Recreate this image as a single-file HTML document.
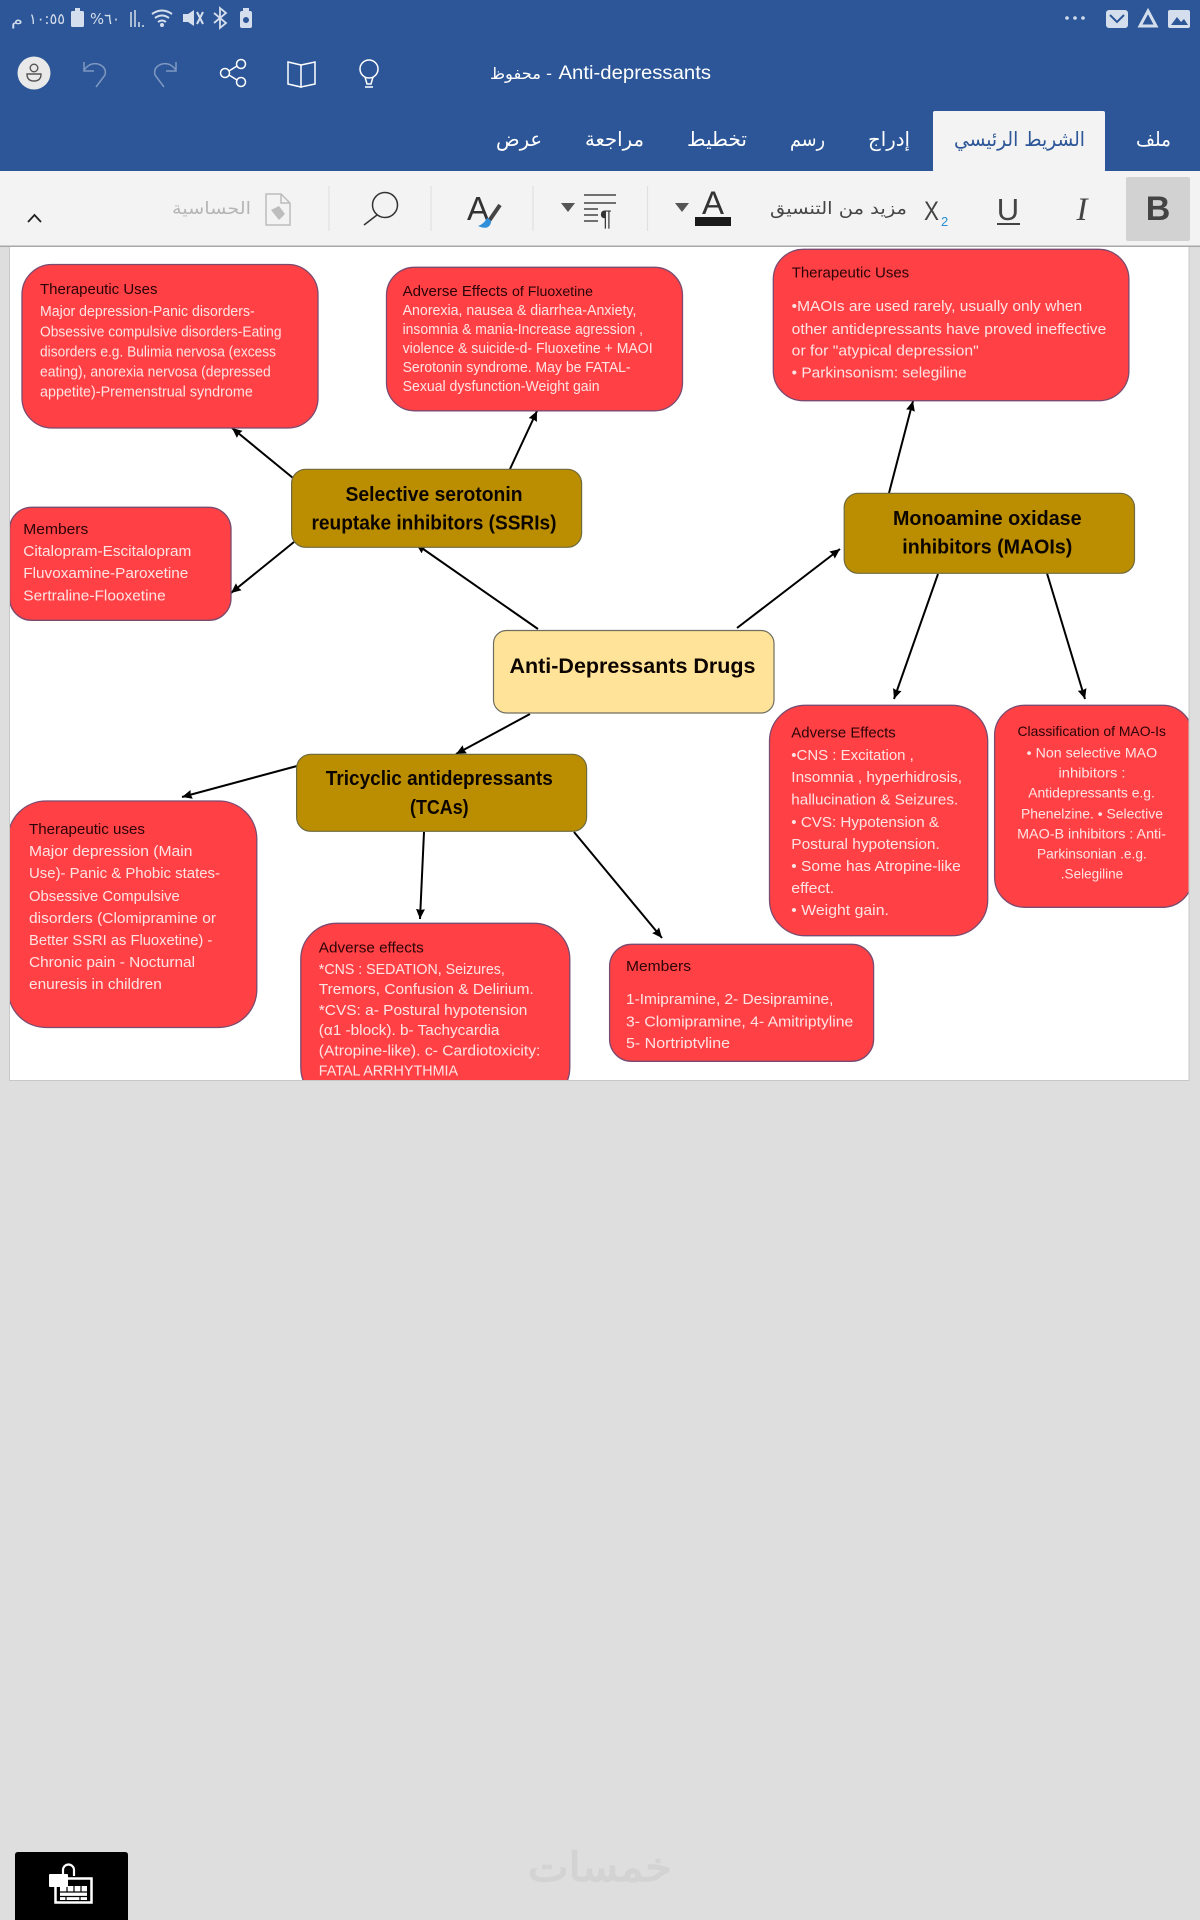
<!DOCTYPE html>
<html lang="en">
<head>
<meta charset="utf-8">
<title>Anti-depressants</title>
<style>
html,body{margin:0;padding:0;background:#DEDEDE;width:1200px;height:1920px;overflow:hidden}
svg{display:block;font-family:"Liberation Sans","DejaVu Sans",sans-serif}
.b{fill:#FFE3E3;font-size:15px}
.h{fill:#2A0406;font-size:15px}
.s{font-size:14px}
.t{fill:#0C0500;font-size:20.500px;font-weight:bold;text-anchor:middle}
.red{fill:#FF4146;stroke:#7B4A6E;stroke-width:1.3}
.gold{fill:#BA8E00;stroke:#6F6B3E;stroke-width:1.2}
.c{stroke:#000;stroke-width:2;fill:none;marker-end:url(#ah)}
.ar{font-family:"DejaVu Sans",sans-serif}
.tab{fill:#fff;font-size:20px}
.ic{fill:none;stroke:#fff;stroke-width:1.5}
.rb{fill:none;stroke:#333;stroke-width:1.5}
.sep{stroke:#E0E0E0;stroke-width:1.2}
.st{fill:#D5DEEC}
</style>
</head>
<body>
<svg width="1200" height="1920" viewBox="0 0 1200 1920" xmlns="http://www.w3.org/2000/svg">
<defs>
<marker id="ah" markerUnits="userSpaceOnUse" markerWidth="12" markerHeight="12" refX="10" refY="5" orient="auto"><path d="M0 0.500L10 5L0 9.500L1 5Z" fill="#000"/></marker>
<clipPath id="page"><rect x="10" y="247" width="1178.6" height="833"/></clipPath>
<clipPath id="cut"><rect x="600" y="1030" width="280" height="18.5"/></clipPath>
</defs>

<rect width="1200" height="1920" fill="#DEDEDE"/>

<!-- page -->
<rect x="9.5" y="240" width="1179.5" height="840.5" fill="#fff" stroke="#C8C8C8"/>

<!-- header -->
<rect width="1200" height="171" fill="#2C5697"/>

<!-- status bar left -->
<text class="ar st" x="11" y="25" font-size="15" textLength="12" lengthAdjust="spacingAndGlyphs">م</text>
<text class="ar st" x="29" y="24" font-size="15" textLength="36" lengthAdjust="spacingAndGlyphs">١٠:٥٥</text>
<rect x="71" y="11" width="13" height="16" rx="1.5" class="st"/><rect x="75" y="8" width="5" height="3" class="st"/>
<text class="ar st" x="90" y="24" font-size="15" textLength="30" lengthAdjust="spacingAndGlyphs">%٦٠</text>
<path d="M131 12v15M135 10v17M139 22v5M143 25v2" stroke="#D5DEEC" stroke-width="1.5"/>
<path d="M152 14q10-7 20 0M155 18q7-5 14 0M158 22q4-3 8 0" fill="none" stroke="#D5DEEC" stroke-width="2"/><circle cx="162" cy="25" r="2" class="st"/>
<path d="M183 14h5l6-4v16l-6-4h-5z" class="st"/><path d="M197 12l6 12M203 12l-6 12" stroke="#D5DEEC" stroke-width="2"/>
<path d="M214 13l12 10-6 5V8l6 5-12 10" fill="none" stroke="#D5DEEC" stroke-width="1.8"/>
<rect x="240" y="11" width="12" height="17" rx="2" class="st"/><rect x="243" y="8" width="6" height="3" class="st"/><circle cx="246" cy="20" r="3" fill="#2C5697"/>

<!-- status bar right -->
<circle cx="1067" cy="18" r="1.8" class="st"/><circle cx="1075" cy="18" r="1.8" class="st"/><circle cx="1083" cy="18" r="1.8" class="st"/>
<rect x="1106" y="10" width="22" height="18" rx="3" class="st"/><path d="M1110 15l7 7 7-7" stroke="#2C5697" stroke-width="2" fill="none"/>
<path d="M1148 11l8 15h-16z" fill="none" stroke="#D5DEEC" stroke-width="3"/>
<rect x="1168" y="10" width="22" height="18" rx="2" class="st"/><path d="M1171 25l6-8 4 5 3-3 4 6z" fill="#2C5697"/>

<!-- title row -->
<circle cx="34" cy="73" r="16.5" fill="#E9E9E9"/>
<circle cx="34" cy="68" r="3.8" fill="none" stroke="#555" stroke-width="1.4"/><path d="M27 74h14q0 7-7 7t-7-7z" fill="none" stroke="#555" stroke-width="1.4"/>
<path d="M84 62v9h10M84 70q6-8 14-6 9 3 7 11l-9 12" fill="none" stroke="#7E98C2" stroke-width="1.5"/>
<path d="M176 62v9h-10M176 70q-6-8-14-6-9 3-7 11l9 12" fill="none" stroke="#7E98C2" stroke-width="1.5"/>
<circle cx="225" cy="73" r="4.5" class="ic"/><circle cx="241" cy="64" r="4.5" class="ic"/><circle cx="241" cy="82" r="4.5" class="ic"/><path d="M229 71l8-5M229 75l8 5" class="ic"/>
<path d="M288 62l13 3v22l-13-3zM301 65l14-3v22l-14 3z" class="ic"/>
<circle cx="369" cy="69" r="9" class="ic"/><path d="M365 77l2 7h4l2-7M365 87h8" class="ic"/>
<text class="ar" x="490" y="79" fill="#fff" font-size="16" textLength="62" lengthAdjust="spacingAndGlyphs">محفوظ -</text>
<text x="558.5" y="79" fill="#fff" font-size="19.500" textLength="152.5" lengthAdjust="spacingAndGlyphs">Anti-depressants</text>

<!-- tabs -->
<rect x="933" y="111" width="172" height="61" rx="2" fill="#F3F3F3"/>
<text class="ar tab" x="1136" y="146" textLength="35" lengthAdjust="spacingAndGlyphs">ملف</text>
<text class="ar tab" x="954" y="146" textLength="131" lengthAdjust="spacingAndGlyphs" style="fill:#2C5697">الشريط الرئيسي</text>
<text class="ar tab" x="868" y="146" textLength="42" lengthAdjust="spacingAndGlyphs">إدراج</text>
<text class="ar tab" x="790" y="146" textLength="35" lengthAdjust="spacingAndGlyphs">رسم</text>
<text class="ar tab" x="687" y="146" textLength="60" lengthAdjust="spacingAndGlyphs">تخطيط</text>
<text class="ar tab" x="585" y="146" textLength="59" lengthAdjust="spacingAndGlyphs">مراجعة</text>
<text class="ar tab" x="496" y="146" textLength="46" lengthAdjust="spacingAndGlyphs">عرض</text>

<!-- ribbon -->
<rect x="0" y="171" width="1200" height="75" fill="#F3F3F3"/>
<rect x="0" y="245.5" width="1200" height="1.5" fill="#A8A8A8"/>
<rect x="1126" y="177" width="64" height="64" rx="2" fill="#D2D2D2"/>
<text x="1158" y="220" font-size="34" font-weight="bold" fill="#444" text-anchor="middle">B</text>
<text x="1082" y="220" font-size="33" font-family="Liberation Serif,serif" font-style="italic" fill="#444" text-anchor="middle">I</text>
<text x="1008" y="220" font-size="31" fill="#444" text-anchor="middle">U</text><rect x="997" y="223" width="23" height="2" fill="#444"/>
<text x="924" y="220" font-size="27" fill="#444" textLength="15" lengthAdjust="spacingAndGlyphs">X</text><text x="941" y="226" font-size="13" fill="#2A8FD0">2</text>
<text class="ar" x="770" y="214" font-size="17" fill="#444" textLength="137" lengthAdjust="spacingAndGlyphs">مزيد من التنسيق</text>
<text x="713" y="214" font-size="32" fill="#333" text-anchor="middle" textLength="22" lengthAdjust="spacingAndGlyphs">A</text><rect x="695" y="217" width="36" height="9" fill="#1A1A1A"/>
<path d="M675 203h14l-7 9z" fill="#555"/>
<line class="sep" x1="647.5" y1="186" x2="647.5" y2="231"/>
<path d="M584 195h32M584 203h32M584 209h14M584 215h14M584 221h14" stroke="#444" stroke-width="1.5"/>
<text x="600" y="226" font-size="22" fill="#333">¶</text>
<path d="M561 203h14l-7 9z" fill="#555"/>
<line class="sep" x1="533" y1="186" x2="533" y2="231"/>
<text x="467" y="220" font-size="33" fill="#333" textLength="22" lengthAdjust="spacingAndGlyphs">A</text>
<path d="M500 205l-11 16" stroke="#444" stroke-width="4"/><path d="M487 218q6 2 3 7t-12 1q6-2 9-8z" fill="#2F8FD8"/>
<line class="sep" x1="431" y1="186" x2="431" y2="231"/>
<circle cx="385" cy="205" r="12.5" class="rb"/><path d="M377 215l-13 10" class="rb"/>
<line class="sep" x1="329" y1="186" x2="329" y2="231"/>
<path d="M266 194h15l9 9v22h-24z M281 194v9h9" fill="none" stroke="#BDBDBD" stroke-width="1.5"/><path d="M271 210l8 10 6-6-6-8z" fill="#BDBDBD"/>
<text class="ar" x="172" y="214" font-size="17" fill="#B5B5B5" textLength="79" lengthAdjust="spacingAndGlyphs">الحساسية</text>
<path d="M28 222l6.500-7 6.500 7" fill="none" stroke="#222" stroke-width="1.8"/>

<!-- diagram -->
<g clip-path="url(#page)">
<line class="c" x1="293" y1="478" x2="232" y2="428"/>
<line class="c" x1="510" y1="469" x2="537" y2="411"/>
<line class="c" x1="294" y1="542" x2="231" y2="593"/>
<line class="c" x1="538" y1="629" x2="416" y2="544"/>
<line class="c" x1="737" y1="628" x2="840" y2="549"/>
<line class="c" x1="889" y1="493" x2="913" y2="401"/>
<line class="c" x1="938" y1="574" x2="894" y2="699"/>
<line class="c" x1="1046" y1="570" x2="1085" y2="699"/>
<line class="c" x1="530" y1="714" x2="456" y2="754"/>
<line class="c" x1="297" y1="766" x2="182" y2="797"/>
<line class="c" x1="424" y1="832" x2="420" y2="919"/>
<line class="c" x1="574" y1="832" x2="662" y2="938"/>

<!-- A -->
<rect class="red" x="22" y="264.500" width="296" height="163.500" rx="30"/>
<text class="h" x="40" y="294" textLength="117.500" lengthAdjust="spacingAndGlyphs">Therapeutic Uses</text>
<text class="b" x="40" y="316" textLength="214.700" lengthAdjust="spacingAndGlyphs">Major depression-Panic disorders-</text>
<text class="b" x="40" y="336.700" textLength="241.500" lengthAdjust="spacingAndGlyphs">Obsessive compulsive disorders-Eating</text>
<text class="b" x="40" y="356.700" textLength="236" lengthAdjust="spacingAndGlyphs">disorders e.g. Bulimia nervosa (excess</text>
<text class="b" x="40" y="376.700" textLength="230.800" lengthAdjust="spacingAndGlyphs">eating), anorexia nervosa (depressed</text>
<text class="b" x="40" y="396.700" textLength="212.800" lengthAdjust="spacingAndGlyphs">appetite)-Premenstrual syndrome</text>

<!-- B -->
<rect class="red" x="386.500" y="267.300" width="296" height="143.500" rx="28"/>
<text class="h" x="402.600" y="296" textLength="105" lengthAdjust="spacingAndGlyphs">Adverse Effects</text>
<text class="h s" x="512" y="296" textLength="81" lengthAdjust="spacingAndGlyphs">of Fluoxetine</text>
<text class="b" x="402.600" y="315" textLength="233.800" lengthAdjust="spacingAndGlyphs">Anorexia, nausea &amp; diarrhea-Anxiety,</text>
<text class="b" x="402.600" y="334" textLength="240.400" lengthAdjust="spacingAndGlyphs">insomnia &amp; mania-Increase agression ,</text>
<text class="b" x="402.600" y="353" textLength="250" lengthAdjust="spacingAndGlyphs">violence &amp; suicide-d- Fluoxetine + MAOI</text>
<text class="b" x="402.600" y="372" textLength="228" lengthAdjust="spacingAndGlyphs">Serotonin syndrome. May be FATAL-</text>
<text class="b" x="402.600" y="391" textLength="197" lengthAdjust="spacingAndGlyphs">Sexual dysfunction-Weight gain</text>

<!-- C -->
<rect class="red" x="9.600" y="507.300" width="221.400" height="113" rx="22"/>
<text class="h" x="23.300" y="534" textLength="65" lengthAdjust="spacingAndGlyphs">Members</text>
<text class="b" x="23.300" y="556" textLength="168" lengthAdjust="spacingAndGlyphs">Citalopram-Escitalopram</text>
<text class="b" x="23.300" y="578" textLength="165" lengthAdjust="spacingAndGlyphs">Fluvoxamine-Paroxetine</text>
<text class="b" x="23.300" y="600.700" textLength="142.400" lengthAdjust="spacingAndGlyphs">Sertraline-Flooxetine</text>

<!-- SSRI -->
<rect class="gold" x="291.600" y="469.300" width="290" height="78" rx="14"/>
<text class="t" x="434" y="501" textLength="177" lengthAdjust="spacingAndGlyphs">Selective serotonin</text>
<text class="t" x="434" y="529.500" textLength="245" lengthAdjust="spacingAndGlyphs">reuptake inhibitors (SSRIs)</text>

<!-- D -->
<rect class="red" x="773.300" y="249.300" width="355.600" height="151.400" rx="30"/>
<text class="h" x="791.700" y="277.700" textLength="117.500" lengthAdjust="spacingAndGlyphs">Therapeutic Uses</text>
<text class="b" x="791.700" y="311" textLength="290.500" lengthAdjust="spacingAndGlyphs">•MAOIs are used rarely, usually only when</text>
<text class="b" x="791.700" y="334" textLength="314.600" lengthAdjust="spacingAndGlyphs">other antidepressants have proved ineffective</text>
<text class="b" x="791.700" y="355.700" textLength="187" lengthAdjust="spacingAndGlyphs">or for "atypical depression"</text>
<text class="b" x="791.700" y="377.700" textLength="175" lengthAdjust="spacingAndGlyphs">• Parkinsonism: selegiline</text>

<!-- MAOI -->
<rect class="gold" x="844.200" y="493.300" width="290.300" height="80" rx="14"/>
<text class="t" x="987.300" y="525" textLength="188.700" lengthAdjust="spacingAndGlyphs">Monoamine oxidase</text>
<text class="t" x="987.300" y="553.300" textLength="170" lengthAdjust="spacingAndGlyphs">inhibitors (MAOIs)</text>

<!-- Central -->
<rect x="493.500" y="630.500" width="280.500" height="82.500" rx="13" fill="#FFE398" stroke="#6F6F60" stroke-width="1.200"/>
<text class="t" x="632.500" y="673" style="font-size:21.500px" textLength="246" lengthAdjust="spacingAndGlyphs">Anti-Depressants Drugs</text>

<!-- TCA -->
<rect class="gold" x="296.600" y="754.300" width="290" height="77" rx="14"/>
<text class="t" x="439.300" y="785" textLength="227" lengthAdjust="spacingAndGlyphs">Tricyclic antidepressants</text>
<text class="t" x="439.300" y="814" textLength="58.600" lengthAdjust="spacingAndGlyphs">(TCAs)</text>

<!-- TCA therapeutic -->
<rect class="red" x="8" y="801" width="248.800" height="226.500" rx="38"/>
<text class="h" x="29" y="834" textLength="116" lengthAdjust="spacingAndGlyphs">Therapeutic uses</text>
<text class="b" x="29" y="856" textLength="163.400" lengthAdjust="spacingAndGlyphs">Major depression (Main</text>
<text class="b" x="29" y="878" textLength="191" lengthAdjust="spacingAndGlyphs">Use)- Panic &amp; Phobic states-</text>
<text class="b" x="29" y="901" textLength="150.800" lengthAdjust="spacingAndGlyphs">Obsessive Compulsive</text>
<text class="b" x="29" y="923" textLength="187" lengthAdjust="spacingAndGlyphs">disorders (Clomipramine or</text>
<text class="b" x="29" y="945" textLength="183.300" lengthAdjust="spacingAndGlyphs">Better SSRI as Fluoxetine) -</text>
<text class="b" x="29" y="967" textLength="166" lengthAdjust="spacingAndGlyphs">Chronic pain - Nocturnal</text>
<text class="b" x="29" y="989" textLength="132.800" lengthAdjust="spacingAndGlyphs">enuresis in children</text>

<!-- TCA adverse -->
<rect class="red" x="300.800" y="923.300" width="269" height="180" rx="36"/>
<text class="h" x="318.800" y="952.700" textLength="105" lengthAdjust="spacingAndGlyphs">Adverse effects</text>
<text class="b" x="318.800" y="974" textLength="186" lengthAdjust="spacingAndGlyphs">*CNS : SEDATION, Seizures,</text>
<text class="b" x="318.800" y="994" textLength="215" lengthAdjust="spacingAndGlyphs">Tremors, Confusion &amp; Delirium.</text>
<text class="b" x="318.800" y="1015" textLength="208.600" lengthAdjust="spacingAndGlyphs">*CVS:  a- Postural hypotension</text>
<text class="b" x="318.800" y="1035" textLength="180.600" lengthAdjust="spacingAndGlyphs">(α1 -block). b- Tachycardia</text>
<text class="b" x="318.800" y="1055.700" textLength="221.600" lengthAdjust="spacingAndGlyphs">(Atropine-like). c- Cardiotoxicity:</text>
<text class="b" x="318.800" y="1075.700" textLength="139.300" lengthAdjust="spacingAndGlyphs">FATAL ARRHYTHMIA</text>

<!-- MAOI adverse -->
<rect class="red" x="769.500" y="705.300" width="218.200" height="230.400" rx="36"/>
<text class="h" x="791.300" y="737.700" textLength="104.500" lengthAdjust="spacingAndGlyphs">Adverse Effects</text>
<text class="b" x="791.300" y="760" textLength="122.500" lengthAdjust="spacingAndGlyphs">•CNS : Excitation ,</text>
<text class="b" x="791.300" y="782" textLength="170.700" lengthAdjust="spacingAndGlyphs">Insomnia , hyperhidrosis,</text>
<text class="b" x="791.300" y="804.700" textLength="166.900" lengthAdjust="spacingAndGlyphs">hallucination &amp; Seizures.</text>
<text class="b" x="791.300" y="827" textLength="147.700" lengthAdjust="spacingAndGlyphs">• CVS: Hypotension &amp;</text>
<text class="b" x="791.300" y="849" textLength="148.500" lengthAdjust="spacingAndGlyphs">Postural hypotension.</text>
<text class="b" x="791.300" y="871" textLength="169.500" lengthAdjust="spacingAndGlyphs">• Some has Atropine-like</text>
<text class="b" x="791.300" y="893" textLength="42.900" lengthAdjust="spacingAndGlyphs">effect.</text>
<text class="b" x="791.300" y="915" textLength="97.600" lengthAdjust="spacingAndGlyphs">• Weight gain.</text>

<!-- Classification -->
<rect class="red" x="994.600" y="705.300" width="198" height="202" rx="30"/>
<text class="h s" x="1017.500" y="736" textLength="148.500" lengthAdjust="spacingAndGlyphs">Classification of MAO-Is</text>
<text class="b s" x="1026.700" y="757.300" textLength="130.500" lengthAdjust="spacingAndGlyphs">• Non selective MAO</text>
<text class="b s" x="1058.500" y="777.300" textLength="67" lengthAdjust="spacingAndGlyphs">inhibitors :</text>
<text class="b s" x="1028.200" y="797.300" textLength="126.700" lengthAdjust="spacingAndGlyphs">Antidepressants e.g.</text>
<text class="b s" x="1021" y="818.300" textLength="142" lengthAdjust="spacingAndGlyphs">Phenelzine. • Selective</text>
<text class="b s" x="1017.100" y="838.300" textLength="148.900" lengthAdjust="spacingAndGlyphs">MAO-B inhibitors : Anti-</text>
<text class="b s" x="1037" y="858.300" textLength="109.800" lengthAdjust="spacingAndGlyphs">Parkinsonian .e.g.</text>
<text class="b s" x="1060.800" y="878.300" textLength="62.400" lengthAdjust="spacingAndGlyphs">.Selegiline</text>

<!-- Members TCA -->
<rect class="red" x="609.600" y="944.300" width="264" height="117" rx="22"/>
<text class="h" x="626" y="971" textLength="65" lengthAdjust="spacingAndGlyphs">Members</text>
<text class="b" x="626" y="1004" textLength="207.400" lengthAdjust="spacingAndGlyphs">1-Imipramine, 2- Desipramine,</text>
<text class="b" x="626" y="1026.700" textLength="227.300" lengthAdjust="spacingAndGlyphs">3- Clomipramine, 4- Amitriptyline</text>
<g clip-path="url(#cut)"><text class="b" x="626" y="1048" textLength="104" lengthAdjust="spacingAndGlyphs">5- Nortriptyline</text></g>
</g>

<!-- page edge lines -->
<line x1="9.500" y1="247" x2="9.500" y2="1080.500" stroke="#C8C8C8"/>
<line x1="1189" y1="247" x2="1189" y2="1080.500" stroke="#C8C8C8"/>

<!-- bottom -->
<path d="M15 1920v-65q0-3 3-3h107q3 0 3 3v65z" fill="#000"/>
<rect x="55.500" y="1878.500" width="36" height="24" fill="none" stroke="#fff" stroke-width="2.500"/>
<path d="M60 1886h27v14H60z" fill="#fff"/>
<path d="M60 1892h27M60 1896.500h27M67 1886v6M74 1886v6M81 1886v6M66 1896v4M80 1896v4" stroke="#000" stroke-width="1.200"/>
<path d="M63 1876v-6a5.500 5.500 0 0 1 11 0v6" fill="none" stroke="#fff" stroke-width="2.200"/>
<rect x="49" y="1874" width="19" height="13" rx="1" fill="#fff"/>
<text class="ar" x="528" y="1881" font-size="40" fill="#D3D3D3" stroke="#D3D3D3" stroke-width="1.500" textLength="144" lengthAdjust="spacingAndGlyphs">خمسات</text>
</svg>
</body>
</html>
